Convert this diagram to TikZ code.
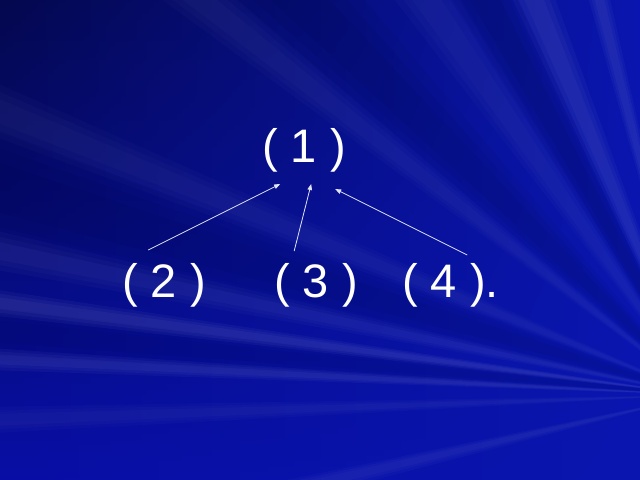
\documentclass[tikz,border=0pt]{standalone}
\usepackage{fontspec}
\setmainfont{Liberation Sans}
\usetikzlibrary{arrows.meta,fadings,calc}
\definecolor{bgtop}{RGB}{4,8,78}
\definecolor{bgbot}{RGB}{8,14,165}
\definecolor{bgright}{RGB}{10,22,175}
\definecolor{linecol}{RGB}{225,228,245}
\tikzfading[name=fadeleft, left color=transparent!100, right color=transparent!0]
\tikzset{
  lbl/.style={text=white, inner sep=0pt, anchor=base west, font=\fontsize{47bp}{56bp}\selectfont},
  arr/.style={draw=linecol, line width=0.8bp, -{Triangle[length=6bp,width=4.5bp]}},
}
\newcommand\softray[5]{% x1 y1 x2 y2 colour-opacity
  \foreach \s in {0,0.3,0.6}{
    \fill[#5] (F) -- ($(#1,#2)!-\s!(#3,#4)$) -- ($(#3,#4)!-\s!(#1,#2)$) -- cycle;
  }}
\begin{document}
\begin{tikzpicture}[x=1bp,y=-1bp]
\useasboundingbox (0,0) rectangle (640,480);
% background
\shade[top color=bgtop, bottom color=bgbot] (0,0) rectangle (640,480);
\fill[bgright, path fading=fadeleft] (0,0) rectangle (640,480);
% light rays from the right
\coordinate (F) at (700,395);
\softray{520}{-10}{540}{-10}{white,opacity=0.03}
\softray{592}{-10}{602}{-10}{white,opacity=0.03}
\softray{405}{-10}{435}{-10}{white,opacity=0.02}
\softray{170}{-10}{205}{-10}{white,opacity=0.02}
\softray{-10}{95}{-10}{120}{white,opacity=0.02}
\softray{-10}{240}{-10}{258}{white,opacity=0.025}
\softray{-10}{296}{-10}{308}{white,opacity=0.035}
\softray{-10}{354}{-10}{364}{white,opacity=0.03}
\softray{-10}{414}{-10}{426}{white,opacity=0.02}
\softray{310}{480}{350}{480}{white,opacity=0.025}
\softray{465}{-10}{495}{-10}{black,opacity=0.05}
\softray{260}{-10}{320}{-10}{black,opacity=0.04}
\softray{-10}{160}{-10}{210}{black,opacity=0.035}
\softray{-10}{320}{-10}{342}{black,opacity=0.03}
% labels
\node[lbl] (n1) at (262,163) {( 1 )};
\node[lbl] (n2) at (122,297) {( 2 )};
\node[lbl] (n3) at (274,297) {( 3 )};
\node[lbl] (n4) at (402,297) {( 4 ).};
% arrows
\draw[arr] ([xshift=-15.8bp,yshift=47bp]n2.base) -- ([xshift=-23.8bp,yshift=-21bp]n1.base);
\draw[arr] ([xshift=-21.8bp,yshift=46bp]n3.base) -- ([xshift=7.2bp,yshift=-21bp]n1.base);
\draw[arr] ([xshift=16.7bp,yshift=42bp]n4.base) -- ([xshift=31.2bp,yshift=-26bp]n1.base);
\end{tikzpicture}
\end{document}
